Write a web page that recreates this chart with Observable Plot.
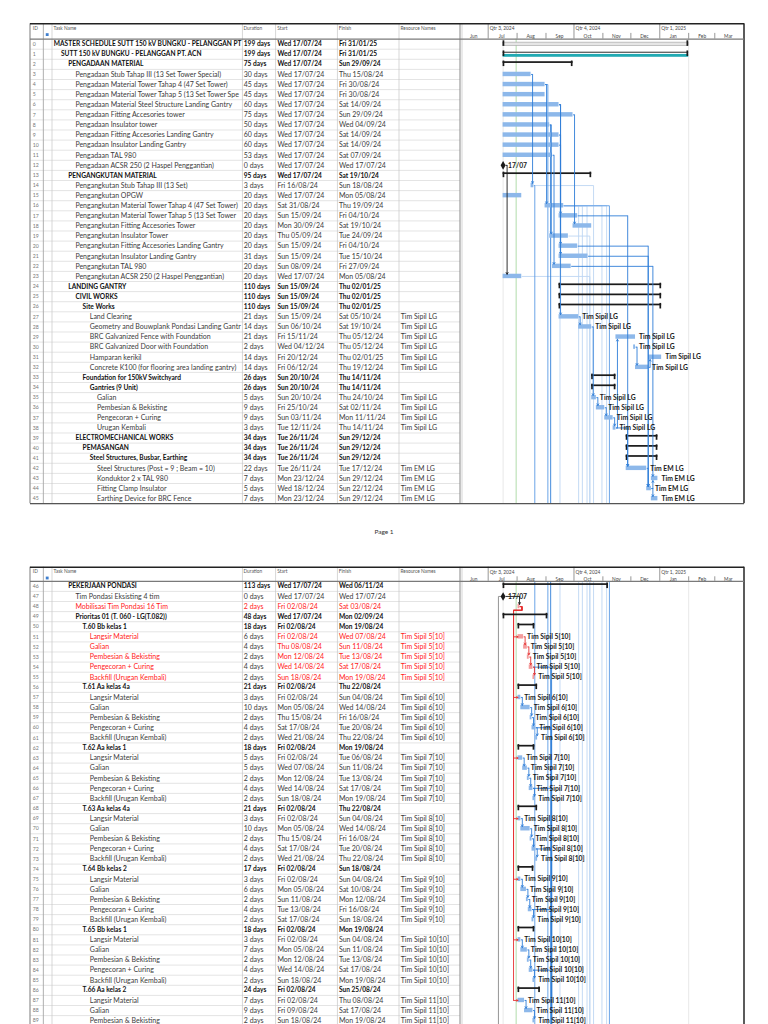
<!DOCTYPE html>
<html>
<head>
<meta charset="utf-8">
<script src="https://cdn.jsdelivr.net/npm/d3@7"></script>
<script src="https://cdn.jsdelivr.net/npm/@observablehq/plot@0.6"></script>
<style>
html,body{margin:0;padding:0;background:#fff;}
#sheet{position:relative;width:768px;height:1024px;overflow:hidden;background:#fff;font-family:Lato,"Open Sans",sans-serif;}
#sheet svg{position:absolute;left:0;}
.footer{position:absolute;left:0;width:768px;text-align:center;font-size:6.5px;color:#333;font-family:Lato,sans-serif;}
</style>
</head>
<body>
<div id="sheet"></div>
<script>
// ================= DATA =================
const taskIds = [0,1,2,3,4,5,6,7,8,9,10,11,12,13,14,15,16,17,18,19,20,21,22,23,24,25,26,27,28,29,30,31,32,33,34,35,36,37,38,39,40,41,42,43,44,45,
  46,47,48,49,50,51,52,53,54,55,56,57,58,59,60,61,62,63,64,65,66,67,68,69,70,71,72,73,74,75,76,77,78,79,80,81,82,83,84,85,86,87,88,89];
const taskNames = [
  "MASTER SCHEDULE SUTT 150 kV BUNGKU - PELANGGAN PT. ACN",
  "SUTT 150 kV BUNGKU - PELANGGAN PT. ACN",
  "PENGADAAN MATERIAL",
  "Pengadaan Stub Tahap III (13 Set Tower Special)",
  "Pengadaan Material Tower Tahap 4 (47 Set Tower)",
  "Pengadaan Material Tower Tahap 5 (13 Set Tower Special)",
  "Pengadaan Material Steel Structure Landing Gantry",
  "Pengadaan Fitting Accesories tower",
  "Pengadaan Insulator tower",
  "Pengadaan Fitting Accesories Landing Gantry",
  "Pengadaan Insulator Landing Gantry",
  "Pengadaan TAL 980",
  "Pengadaan ACSR 250 (2 Haspel Penggantian)",
  "PENGANGKUTAN MATERIAL",
  "Pengangkutan Stub Tahap III (13 Set)",
  "Pengangkutan OPGW",
  "Pengangkutan Material Tower Tahap 4 (47 Set Tower)",
  "Pengangkutan Material Tower Tahap 5 (13 Set Tower Special)",
  "Pengangkutan Fitting Accesories Tower",
  "Pengangkutan Insulator Tower",
  "Pengangkutan Fitting Accesories Landing Gantry",
  "Pengangkutan Insulator Landing Gantry",
  "Pengangkutan TAL 980",
  "Pengangkutan ACSR 250 (2 Haspel Penggantian)",
  "LANDING GANTRY",
  "CIVIL WORKS",
  "Site Works",
  "Land Clearing",
  "Geometry and Bouwplank Pondasi Landing Gantry",
  "BRC Galvanized Fence with Foundation",
  "BRC Galvanized Door with Foundation",
  "Hamparan kerikil",
  "Concrete K100 (for flooring area landing gantry)",
  "Foundation for 150kV Switchyard",
  "Gantries (9 Unit)",
  "Galian",
  "Pembesian & Bekisting",
  "Pengecoran + Curing",
  "Urugan Kembali",
  "ELECTROMECHANICAL WORKS",
  "PEMASANGAN",
  "Steel Structures, Busbar, Earthing",
  "Steel Structures (Post = 9 ; Beam = 10)",
  "Konduktor 2 x TAL 980",
  "Fitting Clamp Insulator",
  "Earthing Device for BRC Fence",
  "PEKERJAAN PONDASI",
  "Tim Pondasi Eksisting 4 tim",
  "Mobilisasi Tim Pondasi 16 Tim",
  "Prioritas 01 (T. 060 - LG(T.082))",
  "T.60 Bb kelas 1",
  "Langsir Material","Galian","Pembesian & Bekisting","Pengecoran + Curing","Backfill (Urugan Kembali)",
  "T.61 Aa kelas 4a",
  "Langsir Material","Galian","Pembesian & Bekisting","Pengecoran + Curing","Backfill (Urugan Kembali)",
  "T.62 Aa kelas 1",
  "Langsir Material","Galian","Pembesian & Bekisting","Pengecoran + Curing","Backfill (Urugan Kembali)",
  "T.63 Aa kelas 4a",
  "Langsir Material","Galian","Pembesian & Bekisting","Pengecoran + Curing","Backfill (Urugan Kembali)",
  "T.64 Bb kelas 2",
  "Langsir Material","Galian","Pembesian & Bekisting","Pengecoran + Curing","Backfill (Urugan Kembali)",
  "T.65 Bb kelas 1",
  "Langsir Material","Galian","Pembesian & Bekisting","Pengecoran + Curing","Backfill (Urugan Kembali)",
  "T.66 Aa kelas 2",
  "Langsir Material","Galian","Pembesian & Bekisting"
];
const outlineLevels = [0,1,2,3,3,3,3,3,3,3,3,3,3,2,3,3,3,3,3,3,3,3,3,3,2,3,4,5,5,5,5,5,5,4,5,6,6,6,6,3,4,5,6,6,6,6,
  2,3,3,3,4,5,5,5,5,5,4,5,5,5,5,5,4,5,5,5,5,5,4,5,5,5,5,5,4,5,5,5,5,5,4,5,5,5,5,5,4,5,5,5];
const durations = ["199 days","199 days","75 days","30 days","45 days","45 days","60 days","75 days","50 days","60 days","60 days","53 days","0 days",
  "95 days","3 days","20 days","20 days","20 days","20 days","20 days","20 days","31 days","20 days","20 days",
  "110 days","110 days","110 days","21 days","14 days","21 days","2 days","14 days","14 days","26 days","26 days","5 days","9 days","9 days","3 days",
  "34 days","34 days","34 days","22 days","7 days","5 days","7 days",
  "113 days","0 days","2 days","48 days",
  "18 days","6 days","4 days","2 days","4 days","2 days",
  "21 days","3 days","10 days","2 days","4 days","2 days",
  "18 days","5 days","5 days","2 days","4 days","2 days",
  "21 days","3 days","10 days","2 days","4 days","2 days",
  "17 days","3 days","6 days","2 days","4 days","2 days",
  "18 days","3 days","7 days","2 days","4 days","2 days",
  "24 days","7 days","9 days","2 days"];
const startDates = ["Wed 17/07/24","Wed 17/07/24","Wed 17/07/24","Wed 17/07/24","Wed 17/07/24","Wed 17/07/24","Wed 17/07/24","Wed 17/07/24","Wed 17/07/24","Wed 17/07/24","Wed 17/07/24","Wed 17/07/24","Wed 17/07/24",
  "Wed 17/07/24","Fri 16/08/24","Wed 17/07/24","Sat 31/08/24","Sun 15/09/24","Mon 30/09/24","Thu 05/09/24","Sun 15/09/24","Sun 15/09/24","Sun 08/09/24","Wed 17/07/24",
  "Sun 15/09/24","Sun 15/09/24","Sun 15/09/24","Sun 15/09/24","Sun 06/10/24","Fri 15/11/24","Wed 04/12/24","Fri 20/12/24","Fri 06/12/24",
  "Sun 20/10/24","Sun 20/10/24","Sun 20/10/24","Fri 25/10/24","Sun 03/11/24","Tue 12/11/24",
  "Tue 26/11/24","Tue 26/11/24","Tue 26/11/24","Tue 26/11/24","Mon 23/12/24","Wed 18/12/24","Mon 23/12/24",
  "Wed 17/07/24","Wed 17/07/24","Fri 02/08/24","Wed 17/07/24",
  "Fri 02/08/24","Fri 02/08/24","Thu 08/08/24","Mon 12/08/24","Wed 14/08/24","Sun 18/08/24",
  "Fri 02/08/24","Fri 02/08/24","Mon 05/08/24","Thu 15/08/24","Sat 17/08/24","Wed 21/08/24",
  "Fri 02/08/24","Fri 02/08/24","Wed 07/08/24","Mon 12/08/24","Wed 14/08/24","Sun 18/08/24",
  "Fri 02/08/24","Fri 02/08/24","Mon 05/08/24","Thu 15/08/24","Sat 17/08/24","Wed 21/08/24",
  "Fri 02/08/24","Fri 02/08/24","Mon 05/08/24","Sun 11/08/24","Tue 13/08/24","Sat 17/08/24",
  "Fri 02/08/24","Fri 02/08/24","Mon 05/08/24","Mon 12/08/24","Wed 14/08/24","Sun 18/08/24",
  "Fri 02/08/24","Fri 02/08/24","Fri 09/08/24","Sun 18/08/24"];
const finishDates = ["Fri 31/01/25","Fri 31/01/25","Sun 29/09/24","Thu 15/08/24","Fri 30/08/24","Fri 30/08/24","Sat 14/09/24","Sun 29/09/24","Wed 04/09/24","Sat 14/09/24","Sat 14/09/24","Sat 07/09/24","Wed 17/07/24",
  "Sat 19/10/24","Sun 18/08/24","Mon 05/08/24","Thu 19/09/24","Fri 04/10/24","Sat 19/10/24","Tue 24/09/24","Fri 04/10/24","Tue 15/10/24","Fri 27/09/24","Mon 05/08/24",
  "Thu 02/01/25","Thu 02/01/25","Thu 02/01/25","Sat 05/10/24","Sat 19/10/24","Thu 05/12/24","Thu 05/12/24","Thu 02/01/25","Thu 19/12/24",
  "Thu 14/11/24","Thu 14/11/24","Thu 24/10/24","Sat 02/11/24","Mon 11/11/24","Thu 14/11/24",
  "Sun 29/12/24","Sun 29/12/24","Sun 29/12/24","Tue 17/12/24","Sun 29/12/24","Sun 22/12/24","Sun 29/12/24",
  "Wed 06/11/24","Wed 17/07/24","Sat 03/08/24","Mon 02/09/24",
  "Mon 19/08/24","Wed 07/08/24","Sun 11/08/24","Tue 13/08/24","Sat 17/08/24","Mon 19/08/24",
  "Thu 22/08/24","Sun 04/08/24","Wed 14/08/24","Fri 16/08/24","Tue 20/08/24","Thu 22/08/24",
  "Mon 19/08/24","Tue 06/08/24","Sun 11/08/24","Tue 13/08/24","Sat 17/08/24","Mon 19/08/24",
  "Thu 22/08/24","Sun 04/08/24","Wed 14/08/24","Fri 16/08/24","Tue 20/08/24","Thu 22/08/24",
  "Sun 18/08/24","Sun 04/08/24","Sat 10/08/24","Mon 12/08/24","Fri 16/08/24","Sun 18/08/24",
  "Mon 19/08/24","Sun 04/08/24","Sun 11/08/24","Tue 13/08/24","Sat 17/08/24","Mon 19/08/24",
  "Sun 25/08/24","Thu 08/08/24","Sat 17/08/24","Mon 19/08/24"];
const resourceNames = ["","","","","","","","","","","","","","","","","","","","","","","","","","","",
  "Tim Sipil LG","Tim Sipil LG","Tim Sipil LG","Tim Sipil LG","Tim Sipil LG","Tim Sipil LG","","",
  "Tim Sipil LG","Tim Sipil LG","Tim Sipil LG","Tim Sipil LG","","","",
  "Tim EM LG","Tim EM LG","Tim EM LG","Tim EM LG",
  "","","","","",
  "Tim Sipil 5[10]","Tim Sipil 5[10]","Tim Sipil 5[10]","Tim Sipil 5[10]","Tim Sipil 5[10]","",
  "Tim Sipil 6[10]","Tim Sipil 6[10]","Tim Sipil 6[10]","Tim Sipil 6[10]","Tim Sipil 6[10]","",
  "Tim Sipil 7[10]","Tim Sipil 7[10]","Tim Sipil 7[10]","Tim Sipil 7[10]","Tim Sipil 7[10]","",
  "Tim Sipil 8[10]","Tim Sipil 8[10]","Tim Sipil 8[10]","Tim Sipil 8[10]","Tim Sipil 8[10]","",
  "Tim Sipil 9[10]","Tim Sipil 9[10]","Tim Sipil 9[10]","Tim Sipil 9[10]","Tim Sipil 9[10]","",
  "Tim Sipil 10[10]","Tim Sipil 10[10]","Tim Sipil 10[10]","Tim Sipil 10[10]","Tim Sipil 10[10]","",
  "Tim Sipil 11[10]","Tim Sipil 11[10]","Tim Sipil 11[10]"];
const summaryIds = [0,1,2,13,24,25,26,33,34,39,40,41,46,49,50,56,62,68,74,80,86];
const criticalIds = [48,51,52,53,54,55];
const tableHeaders = ["ID","Task Name","Duration","Start","Finish","Resource Names"];
const quarterLabels = ["Qtr 3, 2024","Qtr 4, 2024","Qtr 1, 2025"];
const quarterStarts = ["2024-07-01","2024-10-01","2025-01-01"];
const monthLabels = ["Jun","Jul","Aug","Sep","Oct","Nov","Dec","Jan","Feb","Mar"];
const monthStarts = ["2024-06-01","2024-07-01","2024-08-01","2024-09-01","2024-10-01","2024-11-01","2024-12-01","2025-01-01","2025-02-01","2025-03-01"];
const statusDate = "2024-07-31";
const projectLines = ["2024-07-17","2025-02-01"];
const taskLinks = [[3,14],[4,16],[6,17],[9,20],[10,21],[7,18],[8,19],[11,22],[12,23],[6,27],[27,28],[28,35],[35,36],[36,37],[37,38],
  [38,29],[38,42],[17,42],[30,32],[32,31],[22,43],[20,44],[21,44],[42,44],[44,43],[44,45],
  [47,48],[48,51],[48,57],[48,63],[48,69],[48,75],[48,81],[48,87],
  [51,52],[52,53],[53,54],[54,55],[57,58],[58,59],[59,60],[60,61],[63,64],[64,65],[65,66],[66,67],
  [69,70],[70,71],[71,72],[72,73],[75,76],[76,77],[77,78],[78,79],[81,82],[82,83],[83,84],[84,85],[87,88],[88,89]];
const offPageLinks = [[14,"2024-08-20","mid"],[14,"2024-10-22","light"],[4,"2024-09-03","mid"],[8,"2024-09-06","dark"],[9,"2024-09-16","light"],
  [16,"2024-10-06","light"],[16,"2024-10-10","light"],[16,"2024-10-15","light"],[16,"2024-10-31","light"],[16,"2024-11-05","light"],[16,"2024-11-08","mid"],
  [19,"2024-10-18","light"],[23,"2024-10-18","light"],[47,"2024-07-12","gray"],
  [54,"2024-09-07","dark"],[60,"2024-09-07","dark"],[66,"2024-09-07","dark"],[72,"2024-09-07","dark"],[78,"2024-09-07","dark"],[84,"2024-09-07","dark"]];

// ================= LAYOUT =================
const W = 768, RH = 10.1, DAY = 864e5, HALF = 0.22;
const X_DOMAIN = [Date.UTC(2024,5,1), Date.UTC(2025,3,1)];
const X_RANGE = [459.7, 743.2];
const MS_PX = (X_DOMAIN[1] - X_DOMAIN[0]) / (X_RANGE[1] - X_RANGE[0]);
const COL = {left: 30, id: 43.3, ind: 52, name: 242.3, dur: 275.7, start: 337.3, finish: 399, res: 460, right: 744};
const TX = {id: 32.3, name: 53.3, indent: 7.2, dur: 243.3, start: 276.9, finish: 338.4, res: 400.2};
const HDR_X = [32.3, 53, 243, 276.8, 338.2, 400];
const FS = {table: 7.0, bold: 6.6, label: 6.8, id: 5.2, scale: 4.8, header: 4.8};
const PAGES = [
  {first: 0, last: 45, top: 0, height: 540, headerTop: 23.3, rowsTop: 38.6},
  {first: 46, last: 89, top: 540, height: 484, headerTop: 26.7, rowsTop: 40.8}
];
const COLORS = {blue: "#8db8ea", red: "#f39c9c", link: "#2f7ed8", linkRed: "#e63232", black: "#1a1a1a",
  grid: "#d8d8d8", colLine: "#c6c6c6", status: "#a9d8a2", proj: "#e2e2e2", teal: "#21aab3"};
const TONES = {dark: "#2f7ed8", mid: "#5b9be4", light: "#bdd6f3", gray: "#8a8a8a"};
const FONT = "Lato, 'Open Sans', sans-serif";

const iso = s => { const [y,m,d] = s.split("-").map(Number); return Date.UTC(y, m-1, d); };
const dmy = s => { const [dd,mm,yy] = s.split(" ")[1].split("/").map(Number); return Date.UTC(2000+yy, mm-1, dd); };

// text fitting (MS Project cuts names at the column edge)
const ctx = document.createElement("canvas").getContext("2d");
function fitText(text, bold, size, avail) {
  ctx.font = `${bold ? "bold " : ""}${size}px Lato`;
  let t = text;
  while (t.length > 1 && ctx.measureText(t).width > avail) t = t.slice(0, -1);
  return t;
}

const rows = taskIds.map((id, k) => {
  const startMs = dmy(startDates[k]);
  const milestone = durations[k] === "0 days";
  return {id, name: taskNames[k], level: outlineLevels[k], dur: durations[k], start: startDates[k], finish: finishDates[k],
    res: resourceNames[k], startMs, endMs: milestone ? startMs : dmy(finishDates[k]) + DAY, milestone,
    summary: summaryIds.includes(id), critical: criticalIds.includes(id)};
});
const byId = new Map(rows.map(r => [r.id, r]));
const cy = r => r.id + 0.5;

function routeLink(p, s, segs, heads) {
  const color = p.milestone ? COLORS.black : p.critical ? COLORS.linkRed : COLORS.link;
  const cp = cy(p), cs = cy(s);
  const xe = p.milestone ? p.startMs + 2.5 * MS_PX : p.endMs;
  const ref = p.milestone ? p.startMs : p.endMs;
  if (s.startMs >= ref) {
    const vx = Math.max(s.startMs + 1.5 * MS_PX, xe + 1.5 * MS_PX);
    segs.push({x1: xe, y1: cp, x2: vx, y2: cp, c: color});
    heads.push({x1: vx, y1: cp, x2: vx, y2: s.id > p.id ? cs - HALF : cs + HALF, c: color});
  } else {
    const v1 = xe + 2 * MS_PX, mid = cp + 0.38, vx = s.startMs - 4.5 * MS_PX;
    segs.push({x1: xe, y1: cp, x2: v1, y2: cp, c: color});
    segs.push({x1: v1, y1: cp, x2: v1, y2: mid, c: color});
    segs.push({x1: v1, y1: mid, x2: vx, y2: mid, c: color});
    segs.push({x1: vx, y1: mid, x2: vx, y2: cs, c: color});
    heads.push({x1: vx, y1: cs, x2: s.startMs, y2: cs, c: color});
  }
}

const sheet = document.getElementById("sheet");

PAGES.forEach((pg, pi) => {
  const n = pg.last - pg.first + 1;
  const yv = px => pg.first + (px - pg.rowsTop) / RH;
  const inPage = id => id >= pg.first && id <= pg.last;
  const prow = rows.filter(r => inPage(r.id));
  const bottomPx = Math.min(pg.rowsTop + n * RH, pg.height + 2);
  const yEnd = yv(bottomPx);
  const marks = [];
  const vline = (px, t, b, fill, w) => Plot.rect([0], {y1: yv(t), y2: yv(b), insetLeft: px - w / 2, insetRight: W - px - w / 2, fill});
  const hline = (px, l, r, stroke, sw) => Plot.ruleY([0], {y: yv(px), insetLeft: l, insetRight: W - r, stroke, strokeWidth: sw});

  // ---- table grid ----
  marks.push(Plot.ruleY(prow, {y: r => r.id + 1, insetLeft: COL.left, insetRight: W - COL.res, stroke: COLORS.grid, strokeWidth: 0.7}));
  [COL.ind, COL.name, COL.dur, COL.start, COL.finish].forEach(x => marks.push(vline(x, pg.headerTop, bottomPx, COLORS.colLine, 0.7)));
  marks.push(vline(COL.id, pg.headerTop, bottomPx, "#a6a6a6", 0.9));
  marks.push(vline(COL.left, pg.headerTop, bottomPx, "#9a9a9a", 1.3));
  marks.push(vline(COL.res, pg.headerTop, bottomPx, "#8a8a8a", 1.0));
  marks.push(vline(COL.res + 2, pg.headerTop, bottomPx, "#c4c4c4", 0.7));

  // ---- gantt background lines ----
  marks.push(Plot.ruleX(projectLines.map(iso), {x: d => d, y1: pg.first, y2: yEnd, stroke: COLORS.proj, strokeWidth: 0.8}));
  marks.push(Plot.ruleX([iso(statusDate)], {x: d => d, y1: pg.first, y2: yEnd, stroke: COLORS.status, strokeWidth: 0.9}));

  // ---- timescale header ----
  const qT = quarterStarts.map(iso);
  marks.push(Plot.ruleX(qT, {x: d => d, y1: yv(pg.headerTop), y2: pg.first, stroke: "#6a6a6a", strokeWidth: 0.7}));
  marks.push(Plot.ruleX(monthStarts.map(iso).filter(t => !qT.includes(t) && t > X_DOMAIN[0]),
    {x: d => d, y1: yv(pg.headerTop + 9.6), y2: pg.first, stroke: "#6a6a6a", strokeWidth: 0.7}));
  marks.push(Plot.text(quarterLabels, {x: (d, i) => qT[i], text: d => d, frameAnchor: "top", dy: pg.headerTop + 4.8, dx: 1.6,
    textAnchor: "start", lineAnchor: "middle", fontSize: FS.scale, fill: "#444"}));
  marks.push(Plot.text(monthLabels, {x: (d, i) => iso(monthStarts[i]) + 14.5 * DAY, text: d => d, frameAnchor: "top", dy: pg.headerTop + 12.3,
    textAnchor: "middle", lineAnchor: "middle", fontSize: FS.scale, fill: "#444"}));

  // ---- table header ----
  tableHeaders.forEach((t, i) => marks.push(Plot.text([t], {text: d => d, frameAnchor: "top-left", dx: HDR_X[i], dy: pg.headerTop + 4.3,
    textAnchor: "start", lineAnchor: "middle", fontSize: FS.header, fill: "#555"})));
  marks.push(Plot.dot([0], {frameAnchor: "top-left", dx: 46.7, dy: pg.headerTop + 10.8, symbol: "square", r: 1.6, fill: "#3f7fcf"}));

  // ---- table text ----
  const textFill = r => r.critical ? "#ff2020" : (r.summary ? "#111" : "#3a3a3a");
  marks.push(Plot.text(prow, {y: cy, text: r => String(r.id), frameAnchor: "left", dx: TX.id, textAnchor: "start", fontSize: FS.id, fill: "#777"}));
  for (const bold of [false, true]) {
    const sub = prow.filter(r => r.summary === bold);
    if (!sub.length) continue;
    const size = bold ? FS.bold : FS.table;
    const common = {y: cy, frameAnchor: "left", textAnchor: "start", fontSize: size, fontWeight: bold ? "bold" : "normal", fill: textFill};
    d3.groups(sub, r => r.level).forEach(([lvl, arr]) => {
      const x0 = TX.name + TX.indent * lvl;
      marks.push(Plot.text(arr, {...common, text: r => fitText(r.name, bold, size, COL.name - x0 - 0.8), dx: x0}));
    });
    marks.push(Plot.text(sub, {...common, text: r => r.dur, dx: TX.dur, fill: r => (r.critical && !r.res) ? "#ff2020" : (r.summary ? "#111" : "#3a3a3a")}));
    marks.push(Plot.text(sub, {...common, text: r => r.start, dx: TX.start}));
    marks.push(Plot.text(sub, {...common, text: r => r.finish, dx: TX.finish}));
    const withRes = sub.filter(r => r.res);
    if (withRes.length) marks.push(Plot.text(withRes, {...common, text: r => r.res, dx: TX.res}));
  }

  // ---- link lines ----
  const offSegs = [];
  offPageLinks.forEach(([pid, date, tone]) => {
    const p = byId.get(pid), xd = iso(date), c = TONES[tone];
    if (inPage(pid)) {
      const xe = p.milestone ? p.startMs : p.endMs;
      offSegs.push({x1: xe, y1: cy(p), x2: xd, y2: cy(p), c, tone});
      offSegs.push({x1: xd, y1: cy(p), x2: xd, y2: yEnd, c, tone});
    } else if (pid < pg.first) {
      offSegs.push({x1: xd, y1: pg.first, x2: xd, y2: yEnd, c, tone});
    }
  });
  offSegs.sort((a, b) => (a.tone === "light" ? 0 : 1) - (b.tone === "light" ? 0 : 1));
  marks.push(Plot.link(offSegs, {x1: "x1", y1: "y1", x2: "x2", y2: "y2", stroke: "c", strokeWidth: 0.9}));
  const segs = [], heads = [];
  taskLinks.forEach(([a, b]) => { if (inPage(a) && inPage(b)) routeLink(byId.get(a), byId.get(b), segs, heads); });
  marks.push(Plot.link(segs, {x1: "x1", y1: "y1", x2: "x2", y2: "y2", stroke: "c", strokeWidth: 0.9}));

  // ---- bars ----
  const tasks = prow.filter(r => !r.summary && !r.milestone);
  marks.push(Plot.rect(tasks, {x1: "startMs", x2: "endMs", y1: r => cy(r) - HALF, y2: r => cy(r) + HALF,
    fill: r => r.critical ? COLORS.red : COLORS.blue}));
  const sums = prow.filter(r => r.summary);
  const lv0 = sums.filter(r => r.level === 0), lv1 = sums.filter(r => r.level === 1), lvN = sums.filter(r => r.level >= 2);
  if (lv0.length) marks.push(Plot.rect(lv0, {x1: "startMs", x2: "endMs", y1: r => cy(r) - 0.15, y2: r => cy(r) + 0.17, fill: "#e6e6e6", stroke: "#a0a0a0", strokeWidth: 0.6}));
  if (lv1.length) {
    marks.push(Plot.rect(lv1, {x1: "startMs", x2: "endMs", y1: r => cy(r) - 0.21, y2: r => cy(r) - 0.08, fill: "#5f5f5f"}));
    marks.push(Plot.rect(lv1, {x1: "startMs", x2: "endMs", y1: r => cy(r) + 0.02, y2: r => cy(r) + 0.3, fill: COLORS.teal}));
  }
  marks.push(Plot.rect(lvN, {x1: "startMs", x2: "endMs", y1: r => cy(r) - 0.26, y2: r => cy(r) - 0.09, fill: COLORS.black}));
  const CAP = 1.7 * MS_PX;
  marks.push(Plot.rect(sums, {x1: "startMs", x2: r => r.startMs + CAP, y1: r => cy(r) - 0.33, y2: r => cy(r) + 0.22, fill: COLORS.black}));
  marks.push(Plot.rect(sums, {x1: r => r.endMs - CAP, x2: "endMs", y1: r => cy(r) - 0.33, y2: r => cy(r) + 0.22, fill: COLORS.black}));

  // ---- arrowheads on top ----
  marks.push(Plot.arrow(heads, {x1: "x1", y1: "y1", x2: "x2", y2: "y2", stroke: "c", strokeWidth: 0.9, headLength: 3.2}));

  // ---- milestones ----
  const ms = prow.filter(r => r.milestone);
  marks.push(Plot.dot(ms, {x: "startMs", y: cy, symbol: "diamond", r: 2.6, fill: COLORS.black}));
  marks.push(Plot.text(ms, {x: "startMs", y: cy, text: r => r.start.split(" ")[1].slice(0, 5), dx: 5, textAnchor: "start",
    fontWeight: "bold", fontSize: FS.label, fill: "#222"}));

  // ---- resource labels ----
  marks.push(Plot.text(prow.filter(r => r.res), {x: "endMs", y: cy, text: "res", dx: 3.5, textAnchor: "start",
    fontWeight: "bold", fontSize: FS.label, fill: "#1a1a1a"}));

  // ---- page frame ----
  marks.push(vline(COL.right, pg.headerTop, bottomPx, "#333", 1.6));
  marks.push(hline(pg.headerTop, COL.left, COL.right, "#222", 1.5));
  marks.push(hline(pg.rowsTop, COL.left, COL.right, "#7a7a7a", 1.2));
  if (pi === 0) marks.push(hline(bottomPx, COL.left, COL.right, "#555", 1.2));

  const svg = Plot.plot({
    width: W, height: pg.height, margin: 0,
    style: {fontFamily: FONT, background: "transparent"},
    x: {type: "utc", domain: X_DOMAIN.map(t => new Date(t)), range: X_RANGE, axis: null},
    y: {type: "linear", domain: [pg.first, pg.first + n], range: [pg.rowsTop, pg.rowsTop + n * RH], axis: null},
    color: {type: "identity"},
    marks
  });
  svg.style.top = pg.top + "px";
  sheet.appendChild(svg);
});

const footer = document.createElement("div");
footer.className = "footer";
footer.style.top = "528px";
footer.textContent = "Page 1";
sheet.appendChild(footer);
</script>
</body>
</html>
